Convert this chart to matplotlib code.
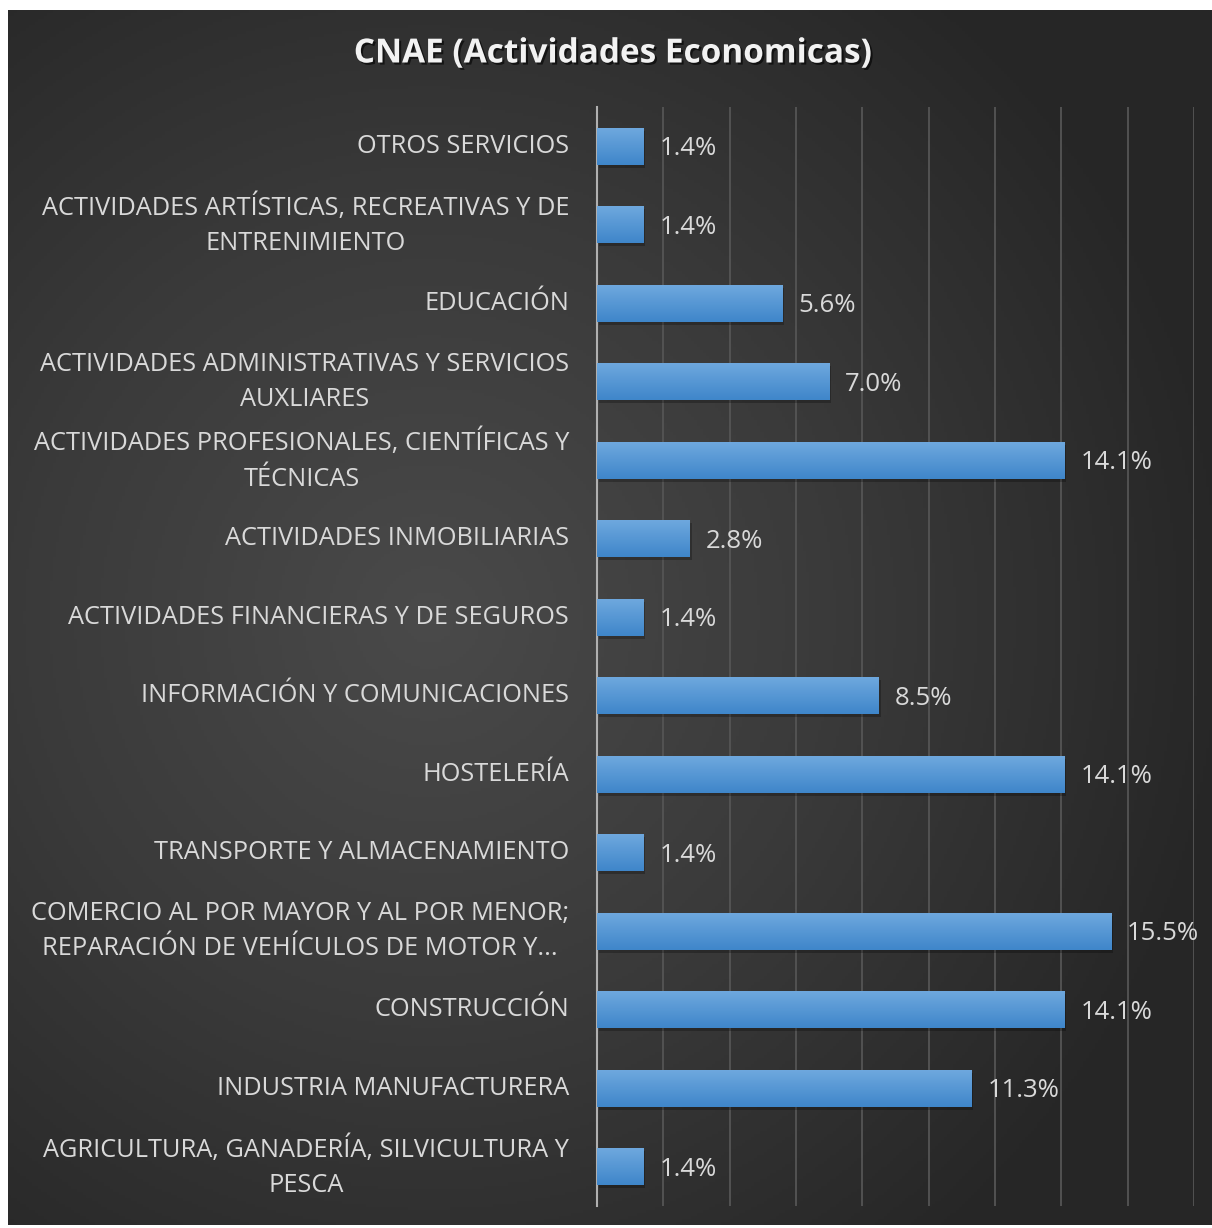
import numpy as np
import matplotlib
matplotlib.use("Agg")
import matplotlib.pyplot as plt
import matplotlib.patheffects as pe
from matplotlib.colors import LinearSegmentedColormap

categories = [
    "AGRICULTURA, GANADERÍA, SILVICULTURA Y\nPESCA",
    "INDUSTRIA MANUFACTURERA",
    "CONSTRUCCIÓN",
    "COMERCIO AL POR MAYOR Y AL POR MENOR;\nREPARACIÓN DE VEHÍCULOS DE MOTOR Y...",
    "TRANSPORTE Y ALMACENAMIENTO",
    "HOSTELERÍA",
    "INFORMACIÓN Y COMUNICACIONES",
    "ACTIVIDADES FINANCIERAS Y DE SEGUROS",
    "ACTIVIDADES INMOBILIARIAS",
    "ACTIVIDADES PROFESIONALES, CIENTÍFICAS Y\nTÉCNICAS",
    "ACTIVIDADES ADMINISTRATIVAS Y SERVICIOS\nAUXLIARES",
    "EDUCACIÓN",
    "ACTIVIDADES ARTÍSTICAS, RECREATIVAS Y DE\nENTRENIMIENTO",
    "OTROS SERVICIOS",
]
values = [1.4, 11.3, 14.1, 15.5, 1.4, 14.1, 8.5, 1.4, 2.8, 14.1, 7.0, 5.6, 1.4, 1.4]
labels = ["1.4%", "11.3%", "14.1%", "15.5%", "1.4%", "14.1%", "8.5%",
          "1.4%", "2.8%", "14.1%", "7.0%", "5.6%", "1.4%", "1.4%"]

font = "Open Sans"
txt_color = "#d9d9d9"

fig = plt.figure(figsize=(12.12, 12.28), dpi=100, facecolor="white")

# dark radial background of the chart area
bg = fig.add_axes([8 / 1212, 3 / 1228, 1204 / 1212, 1215 / 1228])
yy, xx = np.mgrid[0:1:400j, 0:1:400j]
r = np.sqrt(((xx - 0.35) / 0.9) ** 2 + ((yy - 0.5) / 0.9) ** 2)
bg_cmap = LinearSegmentedColormap.from_list("bg", ["#4a4a4a", "#3a3a3a", "#262626"])
bg.imshow(r, cmap=bg_cmap, aspect="auto", extent=[0, 1, 0, 1], vmin=0, vmax=0.75)
bg.set_axis_off()

ax = fig.add_axes([597 / 1212, 22 / 1228, 597 / 1212, 1099 / 1228])
ax.patch.set_alpha(0)
ypos = np.arange(len(categories))
h = 0.47

bar_cmap = LinearSegmentedColormap.from_list("bar", ["#3f86ca", "#6ea8de"])
grad = np.linspace(0, 1, 64).reshape(-1, 1)
for y, v, lab in zip(ypos, values, labels):
    # soft shadow
    ax.add_patch(plt.Rectangle((0.05, y - h / 2 - 0.04), v, h, color="black",
                               alpha=0.25, lw=0, zorder=2))
    ax.imshow(grad, cmap=bar_cmap, origin="lower", aspect="auto",
              extent=[0, v, y - h / 2, y + h / 2], zorder=3)
    ax.text(v + 0.48, y - 0.03, lab, color=txt_color, fontsize=18.5,
            family=font, va="center", ha="left", zorder=4)
ax.set_xlim(0, 18)
ax.set_ylim(-0.5, len(categories) - 0.5)

ax.set_xticks(np.arange(0, 19, 2))
ax.xaxis.grid(True, color="#555555", lw=1.3)
ax.set_axisbelow(True)
ax.tick_params(axis="x", length=0, labelbottom=False)
ax.set_yticks(ypos)
ax.set_yticklabels(categories, family=font, fontsize=18.3, color=txt_color,
                   multialignment="center", linespacing=1.55, va="center")
ax.tick_params(axis="y", length=0, pad=20)
for s in ["top", "right", "bottom"]:
    ax.spines[s].set_visible(False)
ax.spines["left"].set_color("#b0b0b0")
ax.spines["left"].set_linewidth(1.5)

fig.text(613 / 1212, 1 - 54 / 1228, "CNAE (Actividades Economicas)", ha="center",
         va="center", color="#f2f2f2", fontsize=24, fontweight="bold", family=font,
         path_effects=[pe.withSimplePatchShadow(offset=(1.5, -1.5), shadow_rgbFace="black", alpha=0.6)])

fig.savefig("out.png", dpi=100, facecolor="white")
